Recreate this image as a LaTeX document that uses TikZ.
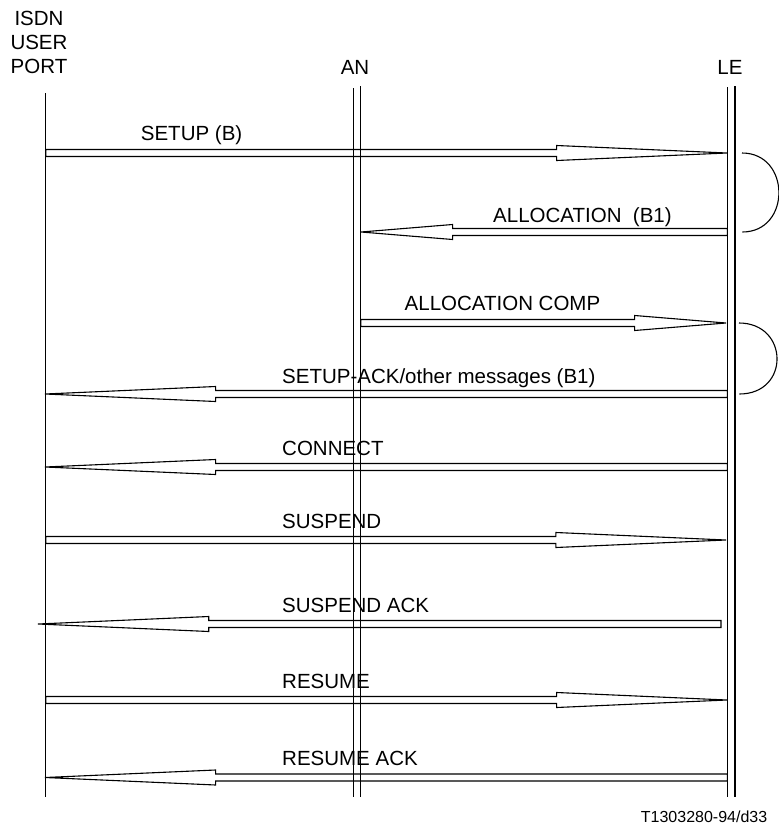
\documentclass[tikz,border=0pt]{standalone}
\usepackage{fontspec}
\setmainfont{Liberation Sans}
\usetikzlibrary{calc}

% hollow signal arrow between two named points (head = last quarter)
\newcommand{\sigarrow}[2]{%
  \draw[msgline] let \p1=(#1), \p2=(#2), \n1={\x1+0.75*(\x2-\x1)} in
    (\x1,\y1+3.5pt) -- (\n1,\y1+3.5pt) -- (\n1,\y1+7.5pt) -- (\x2,\y2)
    -- (\n1,\y1-7.5pt) -- (\n1,\y1-3.5pt) -- (\x1,\y1-3.5pt) -- cycle;}

\begin{document}
\begin{tikzpicture}[
    x=1pt, y=-1pt,
    life/.style={line width=1.1pt},
    msgline/.style={line width=1.1pt, line join=miter},
    lbl/.style={inner sep=0pt, font=\fontsize{20.5}{24}\selectfont},
    msglbl/.style={lbl, anchor=base west}
]

\useasboundingbox (0,0) rectangle (779,828);

% ==========================================
% 1. HEADERS & LIFELINES
% ==========================================

\node[lbl, align=center] (isdn) at (39,42) {ISDN\\USER\\PORT};
\node[lbl] (an) at (355,67) {AN};
\node[lbl] (le) at (730,67) {LE};

\draw[life] (45.7,93) -- (45.7,797);
\draw[life] (353.3,88) -- (353.3,797);
\draw[life] (360.7,86) -- (360.7,797);
\draw[life] (727.3,87) -- (727.3,797);
\draw[life] (735,86) -- (735,797);

% ==========================================
% 2. MESSAGE END POINTS
% ==========================================

\coordinate (setup-a) at (45.7,153);   \coordinate (setup-b) at (727,153);
\coordinate (alloc-a) at (727.3,232);  \coordinate (alloc-b) at (361,232);
\coordinate (comp-a) at (360.7,323);   \coordinate (comp-b) at (726,323);
\coordinate (ack-a) at (727.3,394);    \coordinate (ack-b) at (45,394);
\coordinate (conn-a) at (727.3,467);   \coordinate (conn-b) at (45,467);
\coordinate (susp-a) at (45.7,540);    \coordinate (susp-b) at (726,540);
\coordinate (sack-a) at (721,624);     \coordinate (sack-b) at (38,624);
\coordinate (res-a) at (45.7,700);     \coordinate (res-b) at (727,700);
\coordinate (rack-a) at (727.3,777.5); \coordinate (rack-b) at (45,777.5);

% ==========================================
% 3. MESSAGES
% ==========================================

\sigarrow{setup-a}{setup-b}
\sigarrow{alloc-a}{alloc-b}
\sigarrow{comp-a}{comp-b}
\sigarrow{ack-a}{ack-b}
\sigarrow{conn-a}{conn-b}
\sigarrow{susp-a}{susp-b}
\sigarrow{sack-a}{sack-b}
\sigarrow{res-a}{res-b}
\sigarrow{rack-a}{rack-b}

% timer brackets at LE
\draw[life] ($(setup-b)+(15,0)$) .. controls ($(setup-b)+(64,0)$) and ($(alloc-a)+(64,0)$) .. ($(alloc-a)+(15,0)$);
\draw[life] ($(comp-b)+(13,0)$) .. controls ($(comp-b)+(63,0)$) and ($(ack-a)+(63,0)$) .. ($(ack-a)+(12,0)$);

% ==========================================
% 4. LABELS
% ==========================================

\node[msglbl] (setup) at (140.7,140.5) {SETUP (B)};
\node[msglbl] (alloc) at (493,222) {ALLOCATION\ \ (B1)};
\node[msglbl] (comp) at (404.5,310) {ALLOCATION COMP};
\node[msglbl] (ack) at (282,383) {SETUP-ACK/other messages (B1)};
\node[msglbl] (conn) at (282,455) {CONNECT};
\node[msglbl] (susp) at (282,528) {SUSPEND};
\node[msglbl] (sack) at (282,612) {SUSPEND ACK};
\node[msglbl] (res) at (282,688) {RESUME};
\node[msglbl] (rack) at (282,765.5) {RESUME ACK};

\node[inner sep=0pt, anchor=base west, font=\fontsize{16}{19}\selectfont] (ref) at (640.7,822.7) {T1303280-94/d33};

\end{tikzpicture}
\end{document}
